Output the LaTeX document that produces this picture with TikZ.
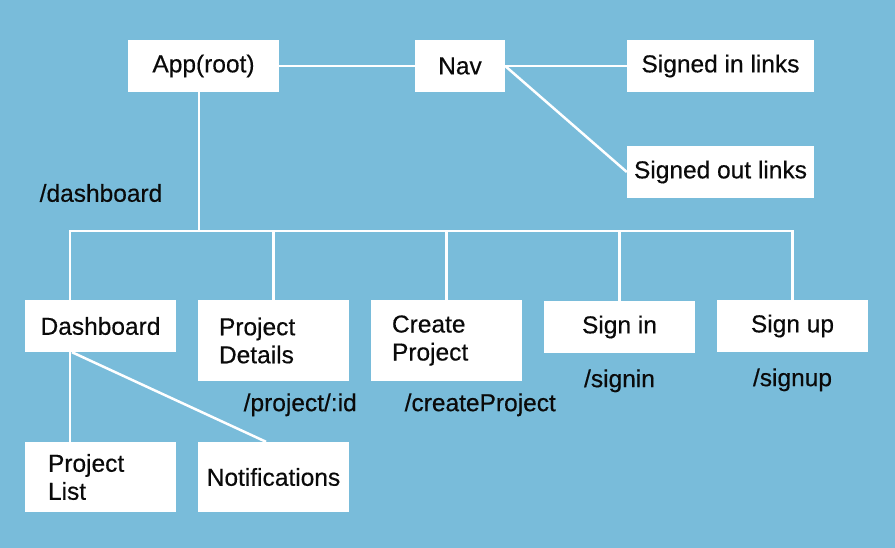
\documentclass[tikz,border=0pt]{standalone}
\usepackage{fontspec}
\setmainfont{Liberation Sans}[FakeBold=0.4]
\usepackage{tikz}
\usetikzlibrary{positioning}
\definecolor{skyblue}{RGB}{121,188,218}
\definecolor{inkblack}{RGB}{10,10,10}
\tikzset{
  box/.style={rectangle, fill=white, text=inkblack, minimum width=151pt,
    minimum height=52pt, inner sep=0pt, align=center,
    font=\fontsize{24.5}{28}\selectfont},
  tallbox/.style={box, text width=109pt, inner xsep=21pt, align=left,
    minimum height=81pt},
  route/.style={inner sep=0pt, text=inkblack, font=\fontsize{24.5}{28}\selectfont},
  link/.style={draw=white, line width=2.5pt}
}

\begin{document}
\begin{tikzpicture}[x=1pt, y=-1pt]

  % Background
  \fill[skyblue] (0,0) rectangle (895,548);
  \useasboundingbox (0,0) rectangle (895,548);

  % Top row
  \node[box] (app) at (203.5,66) {App(root)};
  \node[box, minimum width=90pt] (nav) at (460,66) {Nav};
  \node[box, minimum width=187pt] (signedin) at (720.5,66) {Signed in links};
  \node[box, minimum width=187pt] (signedout) at (720.5,172) {Signed out links};

  % Routes
  \node[box] (dash) at (100.5,326) {Dashboard};
  \node[tallbox] (details) at (273.5,340.5) {Project\\Details};
  \node[tallbox] (create) at (446.5,340.5) {Create\\Project};
  \node[box] (signin) at (619.5,327) {Sign in};
  \node[box] (signup) at (792.5,326) {Sign up};

  % Dashboard children
  \node[tallbox, minimum height=70pt, inner xsep=23pt, text width=105pt] (plist) at (100.5,477) {Project\\List};
  \node[box, minimum height=70pt] (notif) at (273.5,477) {Notifications};

  % Path labels
  \node[route] (dashpath) at (101,193) {/dashboard};
  \node[route, below right=12pt and -30pt of details.south] (detailspath) {/project/:id};
  \node[route, below right=12pt and -42pt of create.south] (createpath) {/createProject};
  \node[route, below=16pt of signin] (signinpath) {/signin};
  \node[route, below=16pt of signup] (signuppath) {/signup};

  % Links
  \coordinate (bus) at (70,231);
  \draw[link] (app) -- (nav);
  \draw[link] (nav.east) -- (signedin.west);
  \draw[link] (nav.east) -- (signedout.west);
  \draw[link] ([xshift=-4.5pt]app.south) -- ([xshift=-4.5pt]app.south |- bus);
  \draw[link] ([xshift=-30.5pt]dash.north) |- (bus -| signup.north) -- (signup.north);
  \foreach \n in {details, create, signin}
    \draw[link] (\n.north) -- (\n.north |- bus);
  \draw[link] ([xshift=-30.5pt]dash.south) -- ([xshift=-30.5pt]dash.south |- plist.north);
  \draw[link] ([xshift=-28.5pt]dash.south) -- ([xshift=-7.5pt]notif.north);
\end{tikzpicture}
\end{document}
